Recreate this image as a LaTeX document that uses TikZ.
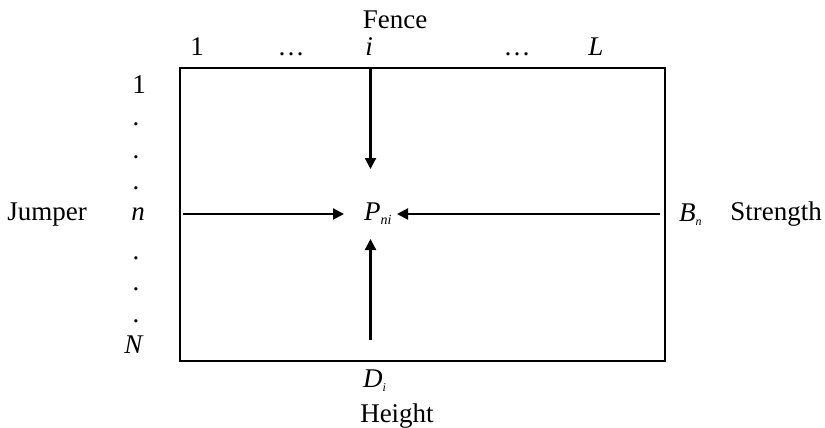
\documentclass[tikz,border=0pt]{standalone}
\usepackage{fontspec}
\setmainfont{Liberation Serif}
\usetikzlibrary{arrows.meta}
\begin{document}
\begin{tikzpicture}[x=1pt,y=-1pt,
  lbl/.style={inner sep=0pt,anchor=base,font=\fontsize{27}{30}\selectfont},
  arr/.style={line width=2.2pt,-{Triangle[length=11pt,width=11pt]}},
  frame/.style={line width=2.2pt}]
\useasboundingbox (0,0) rectangle (825,428);
\node[frame,draw,minimum width=485pt,minimum height=293pt,inner sep=0pt,anchor=north west] (box) at (179,67) {};
% top labels
\node[lbl] (fence) at (395,29) {Fence};
\node[lbl] (c1) at (197,56) {1};
\node[lbl] (cd1) at (291,56) {\ldots};
\node[lbl] (ci) at (369,56) {\textit{i}};
\node[lbl] (cd2) at (517,56) {\ldots};
\node[lbl] (cL) at (596,56) {\textit{L}};
% left labels
\node[lbl] (r1) at (139,93) {1};
\node[lbl] (rd1) at (136,125) {.};
\node[lbl] (rd2) at (136,158) {.};
\node[lbl] (rd3) at (136,189) {.};
\node[lbl] (rn) at (138,220) {\textit{n}};
\node[lbl] (rd4) at (136,259) {.};
\node[lbl] (rd5) at (136,290) {.};
\node[lbl] (rd6) at (136,322) {.};
\node[lbl] (rN) at (134,353) {\textit{N}};
\node[lbl] (jumper) at (47,220) {Jumper};
\node[lbl] (strength) at (776,220) {Strength};
\node[lbl] (height) at (397,422) {Height};
% variables
\node[lbl,anchor=base west] (p) at (364,220) {\textit{P}\raisebox{-4pt}{\fontsize{14}{14}\selectfont\textit{ni}}};
\node[lbl,anchor=base west] (b) at (679,221) {\textit{B}\raisebox{-4pt}{\fontsize{12}{12}\selectfont\textit{n}}};
\node[lbl,anchor=base west] (d) at (363,387) {\textit{D}\raisebox{-4pt}{\fontsize{12}{12}\selectfont\textit{i}}};
% arrow ends
\coordinate (ts) at (370.5,67);
\coordinate (tt) at (370.5,169);
\coordinate (bs) at (370.5,340);
\coordinate (bt) at (370.5,239);
\coordinate (ls) at (183,214);
\coordinate (lt) at (344,214);
\coordinate (rs) at (660,214);
\coordinate (rt) at (397,214);
\draw[arr] (ts) -- (tt);
\draw[arr] (bs) -- (bt);
\draw[arr] (ls) -- (lt);
\draw[arr] (rs) -- (rt);
\end{tikzpicture}
\end{document}
